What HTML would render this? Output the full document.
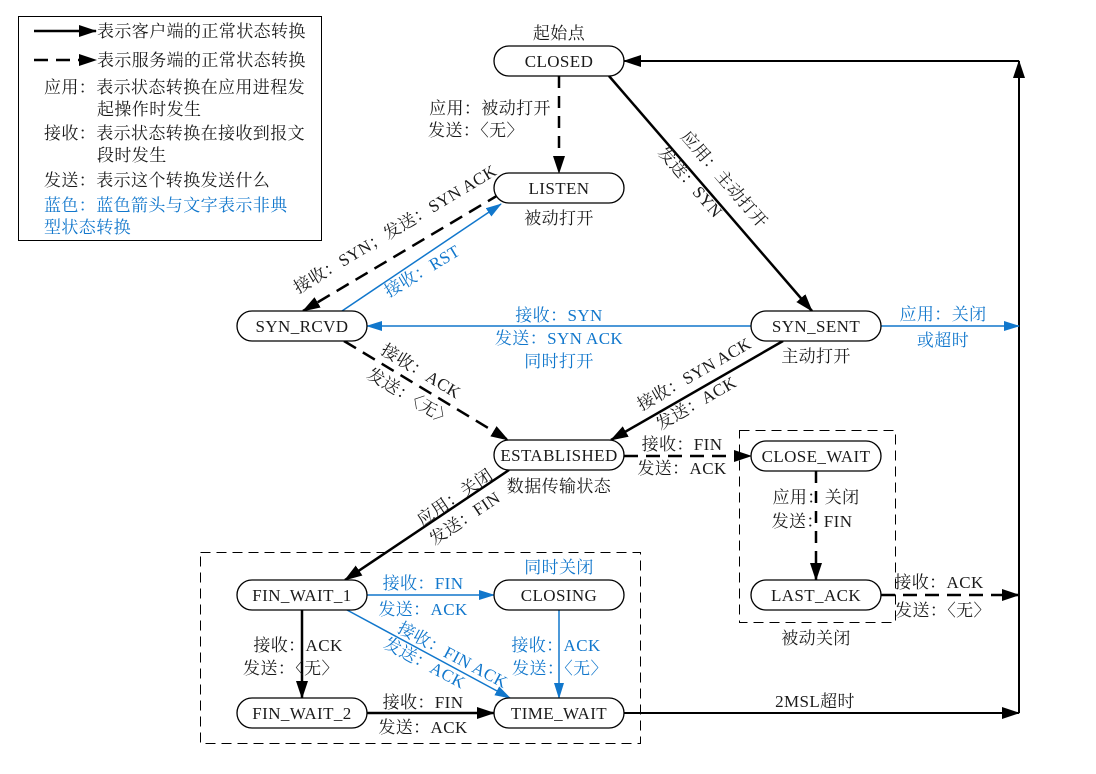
<!DOCTYPE html>
<html><head><meta charset="utf-8"><style>
html,body{margin:0;padding:0;background:#fff;}
svg text{font-family:"Liberation Serif","Noto Serif CJK SC",serif;font-size:17px;letter-spacing:0.4px;fill:#1a1a1a;}
.b{fill:#1177cc !important;}
</style></head><body>
<svg width="1096" height="769" viewBox="0 0 1096 769" xmlns="http://www.w3.org/2000/svg">
<defs>
<marker id="ak" markerWidth="18" markerHeight="12" refX="17" refY="6" orient="auto" markerUnits="userSpaceOnUse"><path d="M0,0 L18,6 L0,12 Z" fill="#000"/></marker>
<marker id="ab" markerWidth="16" markerHeight="10" refX="15" refY="5" orient="auto" markerUnits="userSpaceOnUse"><path d="M0,0 L16,5 L0,10 Z" fill="#1177cc"/></marker>
</defs>
<rect x="18.5" y="16.5" width="303" height="224" fill="none" stroke="#000" stroke-width="1"/>
<line x1="34" y1="31" x2="96" y2="31" stroke="#000" stroke-width="2.5" marker-end="url(#ak)"/>
<line x1="34" y1="60" x2="96" y2="60" stroke="#000" stroke-width="2.5" stroke-dasharray="14,8" marker-end="url(#ak)"/>
<g text-anchor="start">
<text x="97" y="37">表示客户端的正常状态转换</text>
<text x="97" y="66">表示服务端的正常状态转换</text>
<text x="44" y="93">应用：表示状态转换在应用进程发</text>
<text x="97" y="115">起操作时发生</text>
<text x="44" y="139">接收：表示状态转换在接收到报文</text>
<text x="97" y="161">段时发生</text>
<text x="44" y="186">发送：表示这个转换发送什么</text>
<text x="44" y="211" class="b">蓝色：蓝色箭头与文字表示非典</text>
<text x="44" y="233" class="b">型状态转换</text>
</g>
<rect x="739.5" y="430.5" width="156" height="192" fill="none" stroke="#000" stroke-dasharray="10,6"/>
<rect x="200.5" y="552.5" width="440" height="191" fill="none" stroke="#000" stroke-dasharray="10,6"/>
<g stroke="#000" stroke-width="2.5" fill="none">
<line x1="559" y1="76" x2="559" y2="173" stroke-dasharray="12,8" marker-end="url(#ak)"/>
<line x1="609" y1="76" x2="812" y2="311" marker-end="url(#ak)"/>
<line x1="500" y1="194" x2="303" y2="311" stroke-dasharray="14,8" marker-end="url(#ak)"/>
<line x1="344" y1="341" x2="508" y2="440" stroke-dasharray="14,8" marker-end="url(#ak)"/>
<line x1="783" y1="341" x2="611" y2="440" marker-end="url(#ak)"/>
<line x1="624" y1="456" x2="751" y2="456" stroke-dasharray="14,8" marker-end="url(#ak)"/>
<line x1="816" y1="471" x2="816" y2="580" stroke-dasharray="12,8" marker-end="url(#ak)"/>
<line x1="881" y1="595" x2="1019" y2="595" stroke-dasharray="14,8" marker-end="url(#ak)"/>
<line x1="509" y1="470" x2="345" y2="580" marker-end="url(#ak)"/>
<line x1="302" y1="610" x2="302" y2="698" marker-end="url(#ak)"/>
<line x1="367" y1="713" x2="494" y2="713" marker-end="url(#ak)"/>
<line x1="624" y1="713" x2="1019" y2="713" stroke-width="2" marker-end="url(#ak)"/>
<line x1="1019" y1="713" x2="1019" y2="61" stroke-width="2" marker-end="url(#ak)"/>
<line x1="1019" y1="61" x2="624" y2="61" stroke-width="2" marker-end="url(#ak)"/>
</g>
<g stroke="#1177cc" stroke-width="1.5" fill="none">
<line x1="342" y1="311" x2="501" y2="204" marker-end="url(#ab)"/>
<line x1="751" y1="326" x2="367" y2="326" marker-end="url(#ab)"/>
<line x1="881" y1="326" x2="1019" y2="326" marker-end="url(#ab)"/>
<line x1="367" y1="595" x2="494" y2="595" marker-end="url(#ab)"/>
<line x1="347" y1="610" x2="510" y2="698" marker-end="url(#ab)"/>
<line x1="559" y1="610" x2="559" y2="698" marker-end="url(#ab)"/>
</g>
<g fill="#fff" stroke="#000" stroke-width="1.3">
<rect x="494" y="46" width="130" height="30" rx="15"/>
<rect x="494" y="173" width="130" height="30" rx="15"/>
<rect x="237" y="311" width="130" height="30" rx="15"/>
<rect x="751" y="311" width="130" height="30" rx="15"/>
<rect x="494" y="440" width="130" height="30" rx="15"/>
<rect x="751" y="441" width="130" height="30" rx="15"/>
<rect x="237" y="580" width="130" height="30" rx="15"/>
<rect x="494" y="580" width="130" height="30" rx="15"/>
<rect x="751" y="580" width="130" height="30" rx="15"/>
<rect x="237" y="698" width="130" height="30" rx="15"/>
<rect x="494" y="698" width="130" height="30" rx="15"/>
</g>
<g text-anchor="middle">
<text x="559" y="67">CLOSED</text>
<text x="559" y="194">LISTEN</text>
<text x="302" y="332">SYN_RCVD</text>
<text x="816" y="332">SYN_SENT</text>
<text x="559" y="461">ESTABLISHED</text>
<text x="816" y="462">CLOSE_WAIT</text>
<text x="302" y="601">FIN_WAIT_1</text>
<text x="559" y="601">CLOSING</text>
<text x="816" y="601">LAST_ACK</text>
<text x="302" y="719">FIN_WAIT_2</text>
<text x="559" y="719">TIME_WAIT</text>
<text x="559" y="39">起始点</text>
<text x="559" y="224">被动打开</text>
<text x="816" y="362">主动打开</text>
<text x="559" y="492">数据传输状态</text>
<text x="816" y="644">被动关闭</text>
<text x="559" y="573" class="b">同时关闭</text>
<text x="490" y="114">应用：被动打开</text>
<text x="476" y="136">发送：〈无〉</text>
<text x="559" y="321" class="b">接收：SYN</text>
<text x="559" y="344" class="b">发送：SYN ACK</text>
<text x="559" y="367" class="b">同时打开</text>
<text x="943" y="320" class="b">应用：关闭</text>
<text x="943" y="346" class="b">或超时</text>
<text x="682" y="450">接收：FIN</text>
<text x="682" y="474">发送：ACK</text>
<text x="816" y="503">应用：关闭</text>
<text x="812" y="527">发送：FIN</text>
<text x="939" y="588">接收：ACK</text>
<text x="943" y="616">发送：〈无〉</text>
<text x="423" y="589" class="b">接收：FIN</text>
<text x="423" y="615" class="b">发送：ACK</text>
<text x="556" y="651" class="b">接收：ACK</text>
<text x="560" y="674" class="b">发送：〈无〉</text>
<text x="298" y="651">接收：ACK</text>
<text x="291" y="674">发送：〈无〉</text>
<text x="423" y="708">接收：FIN</text>
<text x="423" y="733">发送：ACK</text>
<text x="815" y="707">2MSL超时</text>
<text transform="translate(398,234) rotate(-31)">接收：SYN；发送：SYN ACK</text>
<text class="b" transform="translate(425,276) rotate(-31)">接收：RST</text>
<text transform="translate(418,376) rotate(31)">接收：ACK</text>
<text transform="translate(407,402) rotate(31)">发送：〈无〉</text>
<text transform="translate(720,183) rotate(49)">应用：主动打开</text>
<text transform="translate(686,186) rotate(49)">发送：SYN</text>
<text transform="translate(697,379) rotate(-30)">接收：SYN ACK</text>
<text transform="translate(699,408) rotate(-30)">发送：ACK</text>
<text transform="translate(458,502) rotate(-34)">应用：关闭</text>
<text transform="translate(468,523) rotate(-34)">发送：FIN</text>
<text class="b" transform="translate(450,660) rotate(28)">接收：FIN ACK</text>
<text class="b" transform="translate(422,668) rotate(28)">发送：ACK</text>
</g>
</svg>
</body></html>
